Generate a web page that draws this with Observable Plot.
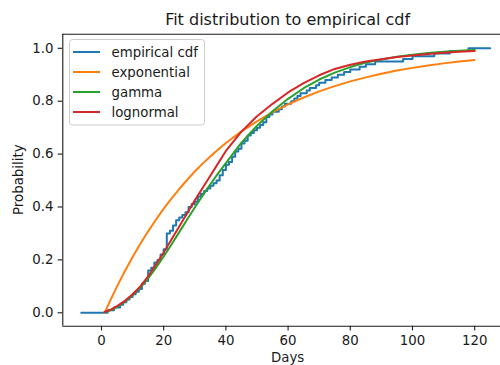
<!DOCTYPE html>
<html>
<head>
<meta charset="utf-8">
<script src="https://cdn.jsdelivr.net/npm/d3@7"></script>
<script src="https://cdn.jsdelivr.net/npm/@observablehq/plot@0.6"></script>
<style>
  html, body { margin: 0; padding: 0; background: #fff; }
  #chart svg { display: block; }
</style>
</head>
<body>
<div id="chart"></div>
<script>
// ---- data ----
const title = "Fit distribution to empirical cdf";
const xLabel = "Days";
const yLabel = "Probability";
const seriesNames = ["empirical cdf", "exponential", "gamma", "lognormal"];
const seriesColors = ["#1f77b4", "#ff7f0e", "#2ca02c", "#d62728"];
const xTicks = [0, 20, 40, 60, 80, 100, 120];
const yTicks = [0.0, 0.2, 0.4, 0.6, 0.8, 1.0];

// empirical cdf steps (step-after)
const ecdfX = [-6.5, 2, 4, 6, 7, 8, 9, 10, 11, 12, 13, 14, 15, 16, 17, 18, 19, 20, 21, 22, 23, 24, 25, 26, 27,
  28, 29, 30, 31, 32, 33, 34, 35, 36, 37, 38, 39, 40, 41, 42, 43, 44, 45, 46, 47, 48, 49, 50, 51, 52, 53, 54, 55,
  57, 58, 59, 61, 62, 63, 64, 66, 67, 69, 70, 72, 74, 76, 78, 80, 83, 85, 88, 97, 100, 107, 112, 118, 125];
const ecdfY = [0, 0.01, 0.02, 0.03, 0.04, 0.05, 0.06, 0.07, 0.08, 0.09, 0.11, 0.12, 0.16, 0.17, 0.19, 0.20, 0.22, 0.24, 0.30, 0.31, 0.33, 0.35, 0.36, 0.37, 0.38,
  0.40, 0.41, 0.42, 0.44, 0.45, 0.46, 0.47, 0.48, 0.49, 0.50, 0.52, 0.54, 0.56, 0.57, 0.59, 0.61, 0.62, 0.64, 0.65, 0.67, 0.68, 0.69, 0.70, 0.71, 0.72, 0.74, 0.75, 0.76,
  0.77, 0.78, 0.79, 0.80, 0.81, 0.82, 0.83, 0.84, 0.85, 0.86, 0.87, 0.88, 0.89, 0.90, 0.91, 0.92, 0.93, 0.94, 0.95, 0.96, 0.97, 0.98, 0.99, 1.00, 1.00];

// fitted curves, sampled days
const fitX = [1, 3, 5, 7.5, 10, 12.5, 15, 17.5, 20, 22.5, 25, 27.5, 30, 32.5, 35, 37.5, 40,
  45, 50, 55, 60, 65, 70, 75, 80, 85, 90, 95, 100, 105, 110, 115, 120];
const expY = [0, 0.051, 0.100, 0.157, 0.211, 0.261, 0.308, 0.352, 0.394, 0.432, 0.468, 0.502, 0.534, 0.564, 0.591, 0.617, 0.642,
  0.686, 0.724, 0.759, 0.788, 0.814, 0.837, 0.857, 0.875, 0.890, 0.904, 0.916, 0.926, 0.935, 0.943, 0.950, 0.956];
const gammaY = [0.002, 0.010, 0.022, 0.042, 0.066, 0.095, 0.130, 0.170, 0.213, 0.258, 0.305, 0.352, 0.398, 0.443, 0.486, 0.527, 0.566,
  0.643, 0.707, 0.762, 0.809, 0.849, 0.882, 0.908, 0.929, 0.946, 0.958, 0.968, 0.976, 0.982, 0.987, 0.991, 0.994];
const lognormY = [0.003, 0.012, 0.025, 0.045, 0.070, 0.100, 0.138, 0.182, 0.228, 0.277, 0.326, 0.375, 0.425, 0.472, 0.518, 0.565, 0.612,
  0.685, 0.743, 0.790, 0.833, 0.868, 0.898, 0.922, 0.938, 0.950, 0.959, 0.967, 0.973, 0.978, 0.983, 0.987, 0.990];

// ---- build ----
const xDomain = [-12.44, 128.3];
const yDomain = [-0.0507, 1.0533];

const ecdf = ecdfX.map((x, i) => ({x, y: ecdfY[i]}));
const fits = [expY, gammaY, lognormY].map(ys => fitX.map((x, i) => ({x, y: ys[i]})));

const W = 500, H = 365;
const mL = 62.3, mR = 0, mT = 33.7, mB = 39.3;
const font = "DejaVu Sans, sans-serif";
const ink = "#1a1a1a";

const chart = Plot.plot({
  width: W, height: H,
  marginLeft: mL, marginRight: mR, marginTop: mT, marginBottom: mB,
  style: {fontFamily: font, fontSize: "13.33px", color: ink, background: "#fff", overflow: "visible"},
  x: {domain: xDomain, label: null},
  y: {domain: yDomain, label: null},
  marks: [
    Plot.line(ecdf, {x: "x", y: "y", stroke: seriesColors[0], strokeWidth: 2, curve: "step-after"}),
    Plot.line(fits[0], {x: "x", y: "y", stroke: seriesColors[1], strokeWidth: 2}),
    Plot.line(fits[1], {x: "x", y: "y", stroke: seriesColors[2], strokeWidth: 2}),
    Plot.line(fits[2], {x: "x", y: "y", stroke: seriesColors[3], strokeWidth: 2}),
    Plot.ruleX([xDomain[0]], {stroke: ink, strokeWidth: 1.1}),
    Plot.ruleY([yDomain[0]], {stroke: ink, strokeWidth: 1.1}),
    Plot.ruleY([yDomain[1]], {stroke: ink, strokeWidth: 1.1}),
    Plot.axisX(xTicks, {tickSize: 4.7, tickPadding: 4.7, stroke: ink, fill: ink, fontSize: 13.33, label: null, strokeWidth: 1.1}),
    Plot.axisY(yTicks, {tickSize: 4.7, tickPadding: 4.7, stroke: ink, fill: ink, fontSize: 13.33, label: null, tickFormat: d3.format(".1f"), strokeWidth: 1.1})
  ]
});

const svg = d3.select(chart);
const cx = (mL + 513) / 2;
svg.append("text").attr("x", cx).attr("y", 25).attr("text-anchor", "middle")
  .attr("font-family", font).attr("font-size", 16).attr("fill", ink).text(title);
svg.append("text").attr("x", cx).attr("y", 362).attr("text-anchor", "middle")
  .attr("font-family", font).attr("font-size", 13.33).attr("fill", ink).text(xLabel);
svg.append("text").attr("transform", `translate(23,${(mT + H - mB) / 2}) rotate(-90)`).attr("text-anchor", "middle")
  .attr("font-family", font).attr("font-size", 13.33).attr("fill", ink).text(yLabel);

// legend
const lg = svg.append("g");
lg.append("rect").attr("x", 69.5).attr("y", 39.5).attr("width", 135).attr("height", 85.5).attr("rx", 3)
  .attr("fill", "#fff").attr("fill-opacity", 0.8).attr("stroke", "#cccccc").attr("stroke-width", 1);
seriesNames.forEach((name, i) => {
  const yy = 52 + i * 20;
  lg.append("line").attr("x1", 73).attr("x2", 100).attr("y1", yy).attr("y2", yy)
    .attr("stroke", seriesColors[i]).attr("stroke-width", 2);
  lg.append("text").attr("x", 111.5).attr("y", yy).attr("dy", "0.36em").attr("text-anchor", "start")
    .attr("font-family", font).attr("font-size", 13.33).attr("fill", ink).text(name);
});

document.getElementById("chart").appendChild(chart);
</script>
</body>
</html>
